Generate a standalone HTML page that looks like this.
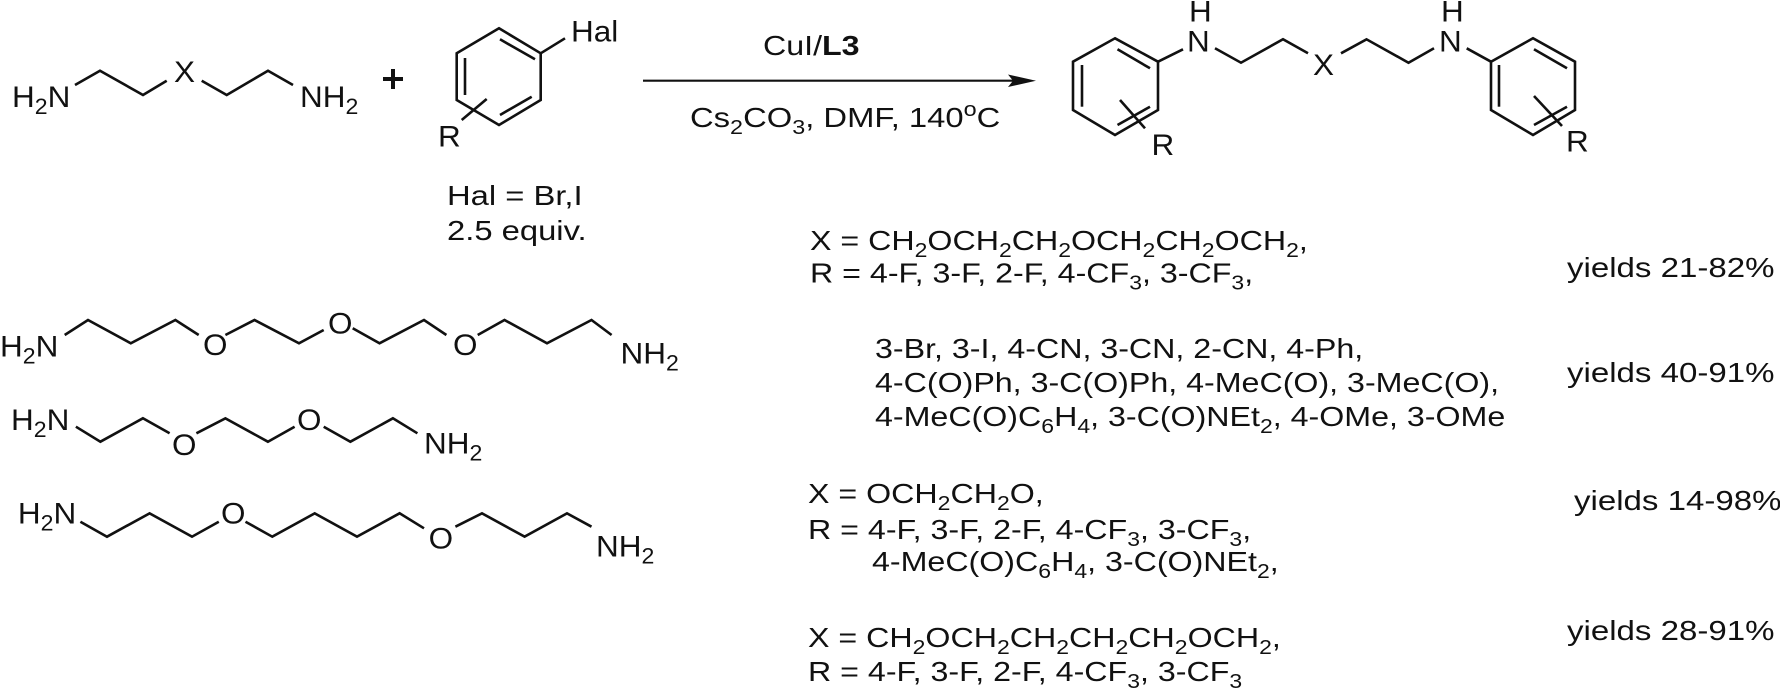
<!DOCTYPE html>
<html><head><meta charset="utf-8"><style>
html,body{margin:0;padding:0;background:#fff;}
svg{display:block;}
text{font-family:"Liberation Sans",Arial,sans-serif;fill:#111;}
</style></head><body>
<svg width="1780" height="692" viewBox="0 0 1780 692" xmlns="http://www.w3.org/2000/svg">
<g fill="none" stroke="#111" stroke-width="2.6" stroke-linejoin="miter" stroke-linecap="butt">
<polyline points="75,85 100,70.7 143,95 166.7,80.7"/>
<polyline points="201.7,80.7 226.7,95 268,70.7 293,85"/>
<line x1="383" y1="79" x2="403" y2="79" stroke-width="4"/>
<line x1="393" y1="69" x2="393" y2="89" stroke-width="4"/>
<polygon points="499,28.3 540.7,53.3 540.7,100 499,125 456.7,100 456.7,53.3"/>
<line x1="465" y1="58" x2="465" y2="95"/>
<line x1="500" y1="39.3" x2="535" y2="59.3"/>
<line x1="500" y1="115" x2="531.7" y2="96.7"/>
<line x1="540.7" y1="53.3" x2="565" y2="38.3"/>
<line x1="461.7" y1="120" x2="486.7" y2="99"/>
<line x1="643" y1="80.7" x2="1015" y2="80.7" stroke-width="2.2"/>
<polygon points="1115,38.3 1158,61.7 1158,110 1115,135 1073,110 1073,61.7"/>
<line x1="1082" y1="65" x2="1082" y2="106.7"/>
<line x1="1117.5" y1="49.3" x2="1150" y2="68.3"/>
<line x1="1117.5" y1="125" x2="1150" y2="106.7"/>
<line x1="1120" y1="100" x2="1145" y2="128.3"/>
<line x1="1158" y1="61.7" x2="1183" y2="49.3"/>
<polyline points="1215,48.3 1241,62.7 1283,39.3 1308,53.3"/>
<polyline points="1341,53.3 1366.5,39.3 1408.5,62.7 1434,48.3"/>
<line x1="1466.7" y1="48.3" x2="1491" y2="61.7"/>
<polygon points="1491,61.7 1533,38.3 1575,61.7 1575,110 1533,135 1491,110"/>
<line x1="1499" y1="65" x2="1499" y2="106.7"/>
<line x1="1534" y1="49.3" x2="1567" y2="68.3"/>
<line x1="1534" y1="125" x2="1567" y2="106.7"/>
<line x1="1534" y1="96" x2="1562" y2="126"/>
<polyline points="64.7,335 88,320 130.8,343.3 175.4,320 198.7,335"/>
<polyline points="225.4,335 254.5,320 299,343.3 323.7,330"/>
<polyline points="352.7,328.3 379.5,343.3 424,320 446.4,335"/>
<polyline points="477.7,335 504.5,320 547,343.3 591.5,320 611.6,335"/>
<polyline points="75.9,426.7 100.4,441.7 142.9,418.3 169.6,433.3"/>
<polyline points="196.4,433.3 225.4,418.3 267.9,441.7 294.6,426.7"/>
<polyline points="323.7,426.7 350.4,441.7 392.9,418.3 417.4,433.3"/>
<polyline points="80.4,521.7 107,536.7 149.6,513.3 192,536.7 218.8,521.7"/>
<polyline points="245.5,521.7 272.3,536.7 314.7,513.3 357,536.7 399.6,513.3 424,528.3"/>
<polyline points="455.4,526.7 482,513.3 524.6,536.7 567,513.3 591.5,526.7"/>
</g>
<polygon points="1036,80.7 1008,74.5 1013,80.7 1008,87" fill="#111"/>

<g font-size="30">
<text transform="translate(12,107) scale(1.05,1)">H<tspan font-size="22" dy="7">2</tspan><tspan dy="-7">N</tspan></text>
<text transform="translate(174,82) scale(1.05,1)">X</text>
<text transform="translate(300,107) scale(1.05,1)">NH<tspan font-size="22" dy="7">2</tspan></text>
<text transform="translate(571,41.7) scale(1.05,1)">Hal</text>
<text transform="translate(438,146.7) scale(1.05,1)">R</text>
<text transform="translate(1187,51.7) scale(1.05,1)">N</text>
<text transform="translate(1189,21.7) scale(1.05,1)">H</text>
<text transform="translate(1313,75) scale(1.05,1)">X</text>
<text transform="translate(1439,51.7) scale(1.05,1)">N</text>
<text transform="translate(1441,21.7) scale(1.05,1)">H</text>
<text transform="translate(1151.5,155) scale(1.05,1)">R</text>
<text transform="translate(1566,151.7) scale(1.05,1)">R</text>
<text transform="translate(0,356.7) scale(1.05,1)">H<tspan font-size="22" dy="7">2</tspan><tspan dy="-7">N</tspan></text>
<text transform="translate(203,355) scale(1.05,1)">O</text>
<text transform="translate(328,333.3) scale(1.05,1)">O</text>
<text transform="translate(453,355) scale(1.05,1)">O</text>
<text transform="translate(620.5,363.3) scale(1.05,1)">NH<tspan font-size="22" dy="7">2</tspan></text>
<text transform="translate(11,430) scale(1.05,1)">H<tspan font-size="22" dy="7">2</tspan><tspan dy="-7">N</tspan></text>
<text transform="translate(172,455) scale(1.05,1)">O</text>
<text transform="translate(297,430) scale(1.05,1)">O</text>
<text transform="translate(424,453.3) scale(1.05,1)">NH<tspan font-size="22" dy="7">2</tspan></text>
<text transform="translate(17.9,523.3) scale(1.05,1)">H<tspan font-size="22" dy="7">2</tspan><tspan dy="-7">N</tspan></text>
<text transform="translate(221,523.3) scale(1.05,1)">O</text>
<text transform="translate(428.6,548.3) scale(1.05,1)">O</text>
<text transform="translate(596,556.7) scale(1.05,1)">NH<tspan font-size="22" dy="7">2</tspan></text>
</g>

<g font-size="28">
<text transform="translate(447,205) scale(1.17,1)">Hal = Br,I</text>
<text transform="translate(447,240) scale(1.17,1)">2.5 equiv.</text>
<text transform="translate(763,55) scale(1.15,1)">CuI/<tspan font-weight="bold">L3</tspan></text>
<text transform="translate(690,127) scale(1.17,1)">Cs<tspan font-size="20" dy="7">2</tspan><tspan dy="-7">CO</tspan><tspan font-size="20" dy="7">3</tspan><tspan dy="-7">, DMF, 140</tspan><tspan font-size="20" dy="-11">o</tspan><tspan dy="11">C</tspan></text>

<text transform="translate(810,250) scale(1.15,1)">X = CH<tspan font-size="20" dy="7">2</tspan><tspan dy="-7">OCH</tspan><tspan font-size="20" dy="7">2</tspan><tspan dy="-7">CH</tspan><tspan font-size="20" dy="7">2</tspan><tspan dy="-7">OCH</tspan><tspan font-size="20" dy="7">2</tspan><tspan dy="-7">CH</tspan><tspan font-size="20" dy="7">2</tspan><tspan dy="-7">OCH</tspan><tspan font-size="20" dy="7">2</tspan><tspan dy="-7">,</tspan></text>
<text transform="translate(810,282.5) scale(1.15,1)">R = 4-F, 3-F, 2-F, 4-CF<tspan font-size="20" dy="7">3</tspan><tspan dy="-7">, 3-CF</tspan><tspan font-size="20" dy="7">3</tspan><tspan dy="-7">,</tspan></text>
<text transform="translate(1567,277) scale(1.18,1)">yields 21-82%</text>

<text transform="translate(875,358) scale(1.15,1)">3-Br, 3-I, 4-CN, 3-CN, 2-CN, 4-Ph,</text>
<text transform="translate(875,392) scale(1.15,1)">4-C(O)Ph, 3-C(O)Ph, 4-MeC(O), 3-MeC(O),</text>
<text transform="translate(875,426) scale(1.15,1)">4-MeC(O)C<tspan font-size="20" dy="7">6</tspan><tspan dy="-7">H</tspan><tspan font-size="20" dy="7">4</tspan><tspan dy="-7">, 3-C(O)NEt</tspan><tspan font-size="20" dy="7">2</tspan><tspan dy="-7">, 4-OMe, 3-OMe</tspan></text>
<text transform="translate(1567,382) scale(1.18,1)">yields 40-91%</text>

<text transform="translate(808,503) scale(1.15,1)">X = OCH<tspan font-size="20" dy="7">2</tspan><tspan dy="-7">CH</tspan><tspan font-size="20" dy="7">2</tspan><tspan dy="-7">O,</tspan></text>
<text transform="translate(808,539) scale(1.15,1)">R = 4-F, 3-F, 2-F, 4-CF<tspan font-size="20" dy="7">3</tspan><tspan dy="-7">, 3-CF</tspan><tspan font-size="20" dy="7">3</tspan><tspan dy="-7">,</tspan></text>
<text transform="translate(872,571) scale(1.15,1)">4-MeC(O)C<tspan font-size="20" dy="7">6</tspan><tspan dy="-7">H</tspan><tspan font-size="20" dy="7">4</tspan><tspan dy="-7">, 3-C(O)NEt</tspan><tspan font-size="20" dy="7">2</tspan><tspan dy="-7">,</tspan></text>
<text transform="translate(1574,510) scale(1.18,1)">yields 14-98%</text>

<text transform="translate(808,647) scale(1.15,1)">X = CH<tspan font-size="20" dy="7">2</tspan><tspan dy="-7">OCH</tspan><tspan font-size="20" dy="7">2</tspan><tspan dy="-7">CH</tspan><tspan font-size="20" dy="7">2</tspan><tspan dy="-7">CH</tspan><tspan font-size="20" dy="7">2</tspan><tspan dy="-7">CH</tspan><tspan font-size="20" dy="7">2</tspan><tspan dy="-7">OCH</tspan><tspan font-size="20" dy="7">2</tspan><tspan dy="-7">,</tspan></text>
<text transform="translate(808,681) scale(1.15,1)">R = 4-F, 3-F, 2-F, 4-CF<tspan font-size="20" dy="7">3</tspan><tspan dy="-7">, 3-CF</tspan><tspan font-size="20" dy="7">3</tspan></text>
<text transform="translate(1567,640) scale(1.18,1)">yields 28-91%</text>
</g>
</svg>
</body></html>
